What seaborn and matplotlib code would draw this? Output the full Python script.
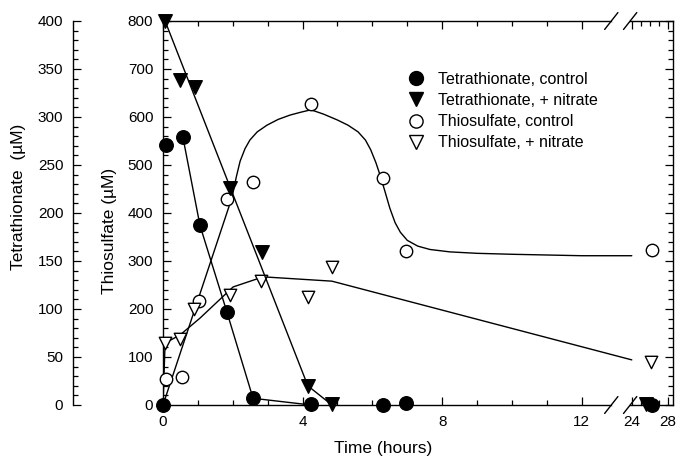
import matplotlib

matplotlib.use("Agg")
import matplotlib.pyplot as plt
import numpy as np
import seaborn as sns
from matplotlib.lines import Line2D
from matplotlib.ticker import FixedLocator, MultipleLocator

# measured points (time in hours, concentration in uM)
tet_ctrl_t = [0.0, 0.09, 0.57, 1.06, 1.83, 2.58, 4.24, 6.30, 6.96, 26.2]
tet_ctrl = [0, 271, 279, 187, 97, 7, 1, 0, 2, 0]
tet_nit_t = [0.06, 0.49, 0.92, 1.92, 2.84, 4.15, 4.84, 25.6]
tet_nit = [400, 339, 331, 226, 159, 20, 1, 1]
thio_ctrl_t = [0.09, 0.54, 1.03, 1.83, 2.58, 4.24, 6.30, 6.96, 26.2]
thio_ctrl = [54, 58, 217, 429, 465, 627, 473, 321, 323]
thio_nit_t = [0.06, 0.49, 0.89, 1.92, 2.81, 4.15, 4.84, 26.1]
thio_nit = [129, 138, 200, 229, 258, 225, 287, 90]

# fitted / guide curves
tet_ctrl_fit_t = [0.57, 1.06, 1.83, 2.58, 4.24]
tet_ctrl_fit = [279, 187, 97, 7, 0]
tet_nit_fit_t = [0.06, 4.15, 4.84]
tet_nit_fit = [400, 20, 0]
thio_ctrl_fit_t = [0, 1.98, 2.1, 2.21, 2.35, 2.49, 2.7, 2.98, 3.3, 3.64, 3.95, 4.24,
                   4.6, 4.99, 5.3, 5.59, 5.8, 5.95, 6.1, 6.22, 6.36, 6.5, 6.65,
                   6.8, 7.0, 7.3, 7.65, 8.22, 9, 10, 12, 24]
thio_ctrl_fit = [0, 433, 475, 508, 534, 552, 569, 583, 595, 604, 610, 615,
                 606, 594, 583, 569, 552, 532, 505, 479, 445, 410, 380,
                 360, 343, 331, 324, 319, 316, 314, 311, 311]
thio_nit_fit_t = [0, 0.06, 0.49, 1.06, 2.01, 2.87, 4.84, 24]
thio_nit_fit = [0, 129, 146, 181, 246, 267, 258, 94]

x_major = [0, 4, 8, 12, 24, 28]
x_minor = [1, 2, 3, 5, 6, 7, 9, 10, 11, 25, 26, 27]

legend_labels = [
    "Tetrathionate, control",
    "Tetrathionate, + nitrate",
    "Thiosulfate, control",
    "Thiosulfate, + nitrate",
]

# broken time axis: 0-12 h linear, 12-24 h squeezed, 24-28 h compressed
BREAK_LO, BREAK_HI = 12.0, 24.0
GAP = 50 / 34.9
TAIL = 9 / 34.9


def fwd(x):
    x = np.asarray(x, dtype=float)
    mid = BREAK_LO + (x - BREAK_LO) * GAP / (BREAK_HI - BREAK_LO)
    tail = BREAK_LO + GAP + (x - BREAK_HI) * TAIL
    return np.where(x <= BREAK_LO, x, np.where(x <= BREAK_HI, mid, tail))


def inv(u):
    u = np.asarray(u, dtype=float)
    mid = BREAK_LO + (u - BREAK_LO) * (BREAK_HI - BREAK_LO) / GAP
    tail = BREAK_HI + (u - BREAK_LO - GAP) / TAIL
    return np.where(u <= BREAK_LO, u, np.where(u <= BREAK_LO + GAP, mid, tail))


sns.set_style("ticks")
plt.rcParams["font.family"] = ["Liberation Sans", "DejaVu Sans"]
plt.rcParams.update({
    "text.color": "black",
    "axes.labelcolor": "black",
    "xtick.color": "black",
    "ytick.color": "black",
    "axes.edgecolor": "black",
})

fig = plt.figure(figsize=(6.8, 4.66), dpi=100)
ax = fig.add_axes([163 / 680, 1 - 405 / 466, 510 / 680, 384 / 466])
ax.set_xscale("function", functions=(fwd, inv))
ax.set_xlim(0, 28.58)
ax.set_ylim(0, 800)

tet = ax.twinx()
tet.set_ylim(0, 400)

line_kw = dict(color="black", linewidth=1.0, sort=False, estimator=None)
sns.lineplot(x=thio_ctrl_fit_t, y=thio_ctrl_fit, ax=ax, **line_kw)
sns.lineplot(x=thio_nit_fit_t, y=thio_nit_fit, ax=ax, **line_kw)
sns.lineplot(x=tet_ctrl_fit_t, y=tet_ctrl_fit, ax=tet, **line_kw)
sns.lineplot(x=tet_nit_fit_t, y=tet_nit_fit, ax=tet, **line_kw)

open_kw = dict(color="white", edgecolor="black", linewidth=1.0, s=80, clip_on=False, zorder=5)
filled_kw = dict(color="black", edgecolor="black", linewidth=1.0, s=95, clip_on=False, zorder=6)
sns.scatterplot(x=thio_ctrl_t, y=thio_ctrl, ax=ax, marker="o", **open_kw)
sns.scatterplot(x=thio_nit_t, y=thio_nit, ax=ax, marker="v", **open_kw)
sns.scatterplot(x=tet_nit_t, y=tet_nit, ax=tet, marker="v", **filled_kw)
sns.scatterplot(x=tet_ctrl_t, y=tet_ctrl, ax=tet, marker="o", **filled_kw)

# thiosulfate axis (inner left) + mirrored right ticks
ax.set_xticks(x_major, labels=[str(v) for v in x_major])
ax.xaxis.set_minor_locator(FixedLocator(x_minor))
ax.yaxis.set_major_locator(MultipleLocator(100))
ax.yaxis.set_minor_locator(MultipleLocator(20))
ax.tick_params(which="both", direction="in", top=True, bottom=True,
               left=True, right=True, labelsize=11, width=0.9, pad=7)
ax.tick_params(which="major", length=6)
ax.tick_params(which="minor", length=3.5)
for side in ["left", "right", "top", "bottom"]:
    ax.spines[side].set_linewidth(1.0)

# tetrathionate axis (outer left)
tet.yaxis.tick_left()
tet.yaxis.set_label_position("left")
tet.spines["left"].set_position(("axes", (73 - 163) / 510))
tet.spines["left"].set_visible(True)
tet.spines["left"].set_linewidth(1.0)
for side in ["right", "top", "bottom"]:
    tet.spines[side].set_visible(False)
tet.yaxis.set_major_locator(MultipleLocator(50))
tet.yaxis.set_minor_locator(MultipleLocator(10))
tet.tick_params(axis="y", which="both", direction="in", left=True, right=False,
                labelleft=True, labelright=False, labelsize=11, width=0.9, pad=7)
tet.tick_params(axis="y", which="major", length=6)
tet.tick_params(axis="y", which="minor", length=3.5)

ax.set_xlabel("Time (hours)", fontsize=12.5)
ax.xaxis.set_label_coords((383 - 163) / 510, -0.095)
ax.set_ylabel("Thiosulfate (\u00b5M)", fontsize=12.5)
ax.yaxis.set_label_coords(-0.09, 0.453)
tet.set_ylabel("Tetrathionate  (\u00b5M)", fontsize=12.5)
tet.yaxis.set_label_coords(-0.268, 0.542)

# axis-break marks on top and bottom spines
for y in (0, 1):
    ax.plot([0.884, 0.911], [y, y], transform=ax.transAxes, color="white",
            linewidth=3, clip_on=False, zorder=10)
    for xc in (0.879, 0.916):
        ax.plot([xc - 0.013, xc + 0.013], [y - 0.022, y + 0.022], transform=ax.transAxes,
                color="black", linewidth=1.0, clip_on=False, zorder=11)

handles = [
    Line2D([], [], linestyle="none", marker="o", markersize=10, color="black"),
    Line2D([], [], linestyle="none", marker="v", markersize=10, color="black"),
    Line2D([], [], linestyle="none", marker="o", markersize=9.5, markerfacecolor="white",
           markeredgecolor="black"),
    Line2D([], [], linestyle="none", marker="v", markersize=9.5, markerfacecolor="white",
           markeredgecolor="black"),
]
tet.legend(handles, legend_labels, loc="upper left", frameon=False, fontsize=11.5,
           bbox_to_anchor=(408 / 680, 1 - 72 / 466), bbox_transform=fig.transFigure,
           borderpad=0, borderaxespad=0, handlelength=1.0, handletextpad=0.85,
           labelspacing=0.38)

fig.savefig("out.png", dpi=100)
